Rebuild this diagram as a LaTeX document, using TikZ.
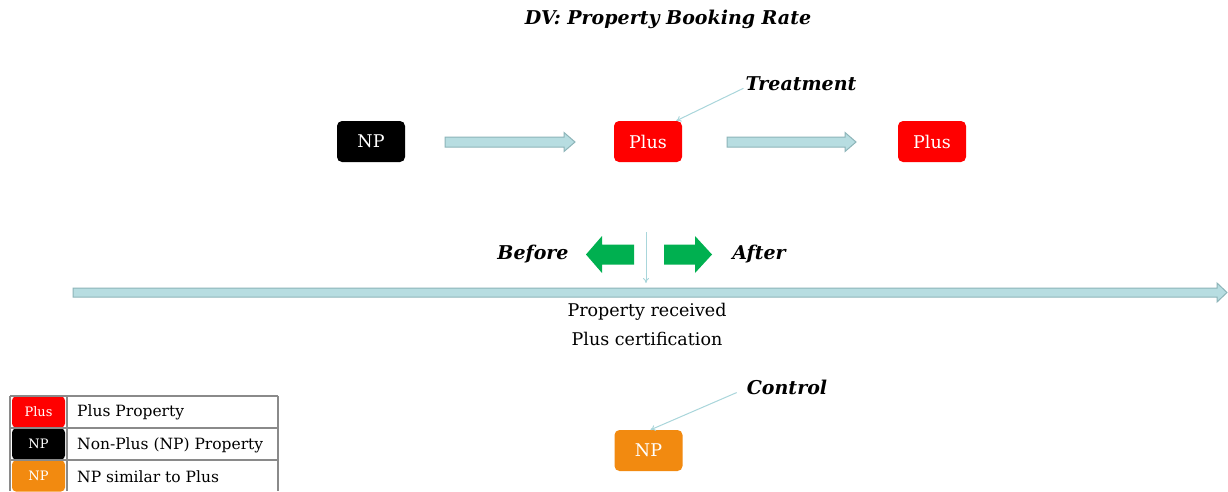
\documentclass[tikz,border=0pt]{standalone}
\usepackage{fontspec}
\setmainfont{DejaVu Serif}
\usetikzlibrary{arrows.meta}
\newcommand{\blockarr}[7]{%
  \draw[#7] (#1,#3-#4) -- (#2-#6,#3-#4) -- (#2-#6,#3-#5) -- (#2,#3) -- (#2-#6,#3+#5) -- (#2-#6,#3+#4) -- (#1,#3+#4) -- cycle;}
\newcommand{\blockarrl}[7]{%
  \draw[#7] (#2,#3-#4) -- (#1+#6,#3-#4) -- (#1+#6,#3-#5) -- (#1,#3) -- (#1+#6,#3+#5) -- (#1+#6,#3+#4) -- (#2,#3+#4) -- cycle;}
\begin{document}
\begin{tikzpicture}[x=1pt,y=-1pt,
  box/.style={rounded corners=5pt, minimum width=68pt, minimum height=41pt, inner sep=0pt, text=white, font=\fontsize{17.5}{20}\selectfont},
  lab/.style={font=\fontsize{19}{22}\selectfont\bfseries\itshape, inner sep=0pt},
  pointer/.style={draw=lblue, line width=1pt, -{To[length=5pt,width=6pt]}},
  barrow/.style={fill=lfill, draw=lborder, line width=1pt},
  garrow/.style={fill=agreen, draw=none},
  plain/.style={font=\fontsize{17.5}{20}\selectfont, inner sep=0pt},
  legtxt/.style={font=\fontsize{15.5}{18}\selectfont, inner sep=0pt, anchor=west},
  legbox/.style={rounded corners=4pt, minimum width=53pt, minimum height=31pt, inner sep=0pt, text=white, font=\fontsize{13}{15}\selectfont}
]
\definecolor{lblue}{HTML}{A9D6DB}
\definecolor{lfill}{HTML}{B7DDE1}
\definecolor{lborder}{HTML}{8DB5B9}
\definecolor{agreen}{HTML}{00B050}
\definecolor{npor}{HTML}{F28A10}
\definecolor{gridc}{HTML}{8A8A8A}
\useasboundingbox (0,0) rectangle (1228,491);
\fill[white] (0,0) rectangle (1228,491);

% title
\node[lab] (title) at (668,19) {DV: Property Booking Rate};

% boxes
\node[box, fill=black] (np1) at (371,141.5) {NP};
\node[box, fill=red] (plus1) at (648,141.5) {Plus};
\node[box, fill=red] (plus2) at (932,141.5) {Plus};
\node[box, fill=npor] (np2) at (648.5,450.5) {NP};

% block arrows
\blockarr{445}{575}{142}{5}{9.5}{11}{barrow}
\blockarr{727}{856}{142}{5}{9.5}{11}{barrow}

% timeline
\blockarr{73}{1227}{292.5}{4.5}{9.5}{10}{barrow}

% green arrows
\blockarrl{586}{634}{254.5}{10}{18.5}{16}{garrow}
\blockarr{664}{712}{254.5}{10}{18.5}{17}{garrow}

% vertical pointer
\coordinate (vtop) at (646,232);
\coordinate (vbot) at (646,283);
\draw[pointer] (vtop) -- (vbot);

% labels
\node[lab] (treat) at (801,84) {Treatment};
\node[lab] (ctrl) at (787,387) {Control};
\node[lab] (before) at (533,254) {Before};
\node[lab] (after) at (759,254) {After};

\draw[pointer] ([xshift=-2,yshift=3]treat.south west) -- ([xshift=-6]plus1.north east);
\draw[pointer] ([xshift=-10,yshift=2]ctrl.south west) -- ([xshift=2]np2.north);

\node[plain] (recv) at (647,312) {Property received};
\node[plain] (cert) at (647,339) {Plus certification};

% legend
\node[legbox, fill=red] (lg1) at (38.5,412) {Plus};
\node[legbox, fill=black] (lg2) at (38.5,444) {NP};
\node[legbox, fill=npor] (lg3) at (38.5,476) {NP};
\draw[gridc, line width=1.3pt] (10,396) -- (278,396) (10,428) -- (278,428) (10,460) -- (278,460)
  (67,396) -- (67,491) (278,396) -- (278,491) (10,396) -- (10,491);
\node[legtxt] (lt1) at (77,412) {Plus Property};
\node[legtxt] (lt2) at (77,445) {Non-Plus (NP) Property};
\node[legtxt] (lt3) at (77,477) {NP similar to Plus};
\end{tikzpicture}
\end{document}
